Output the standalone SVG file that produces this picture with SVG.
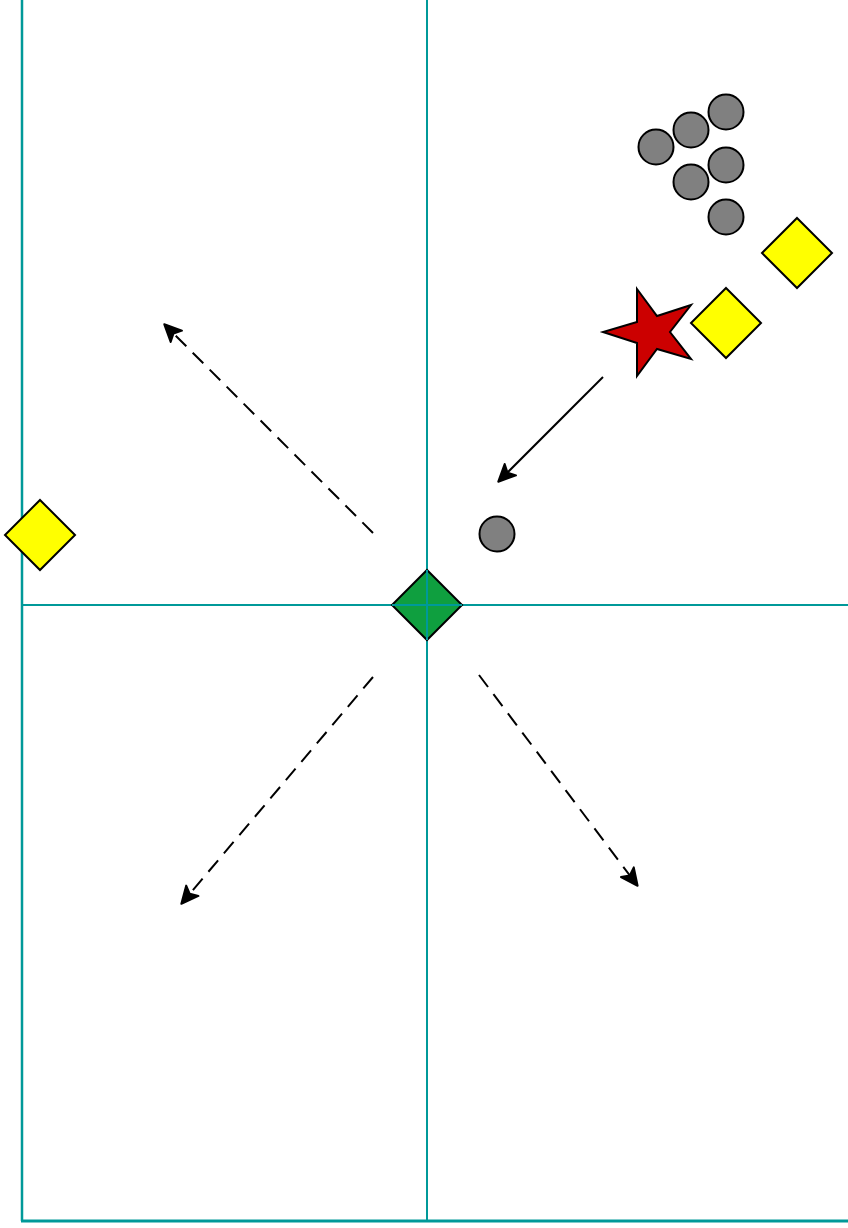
<svg xmlns="http://www.w3.org/2000/svg" width="848" height="1228" viewBox="0 0 848 1228">
<style>
.field{stroke:#009999;fill:none}
.ball{fill:#808080;stroke:#000;stroke-width:2}
.cone{fill:#ffff00;stroke:#000;stroke-width:2}
.conn{stroke:#000;stroke-width:2;fill:none}
.dash{stroke-dasharray:15 9}
</style>
<defs>
<marker id="arr" viewBox="-3 -3 24 24" refX="16" refY="8" markerWidth="24" markerHeight="24" markerUnits="userSpaceOnUse" orient="auto">
<path d="M0,0 L17,8 L0,16 L4,8 z" fill="#000" stroke="#000" stroke-width="2" stroke-linejoin="round"/>
</marker>
</defs>
<rect width="848" height="1228" fill="#fff"/>
<g id="field">
<line class="field" x1="22" y1="0" x2="22" y2="1221" stroke-width="2.5"/>
<line class="field" x1="21" y1="1221" x2="848" y2="1221" stroke-width="3"/>
<line class="field" x1="427" y1="0" x2="427" y2="1221" stroke-width="2"/>
<line class="field" x1="22" y1="605" x2="848" y2="605" stroke-width="2"/>
</g>
<g id="connectors">
<line class="conn" x1="603" y1="377" x2="499" y2="481" marker-end="url(#arr)"/>
<line class="conn dash" x1="373" y1="533" x2="165" y2="325" marker-end="url(#arr)"/>
<line class="conn dash" x1="373" y1="677" x2="182" y2="903" marker-end="url(#arr)"/>
<line class="conn dash" x1="479" y1="675" x2="637" y2="885" marker-end="url(#arr)"/>
</g>
<g id="ball1"><circle class="ball" cx="656" cy="147" r="17.5"/></g>
<g id="ball2"><circle class="ball" cx="691" cy="130" r="17.5"/></g>
<g id="ball3"><circle class="ball" cx="726" cy="112" r="17.5"/></g>
<g id="ball4"><circle class="ball" cx="691" cy="182" r="17.5"/></g>
<g id="ball5"><circle class="ball" cx="726" cy="165" r="17.5"/></g>
<g id="ball6"><circle class="ball" cx="726" cy="217" r="17.5"/></g>
<g id="ball7"><circle class="ball" cx="497" cy="534" r="17.5"/></g>
<g id="cone1"><polygon class="cone" points="797,218 832,253 797,288 762,253"/></g>
<g id="cone2"><polygon class="cone" points="726,288 761,323 726,358 691,323"/></g>
<g id="cone3"><polygon class="cone" points="40,500 75,535 40,570 5,535"/></g>
<g id="star"><polygon points="637,289 657,316 691,305 670,332 691,359 657,349 637,376 637,343 603,332 637,322" fill="#cc0000" stroke="#000" stroke-width="2"/></g>
<g id="player"><polygon points="427,570 462,605 427,640 392,605" fill="#0f9f3f" stroke="#000" stroke-width="2"/></g>
<g id="crosslines">
<line class="field" x1="427" y1="570" x2="427" y2="640" stroke-width="2"/>
<line class="field" x1="392" y1="605" x2="462" y2="605" stroke-width="2"/>
</g>
</svg>
